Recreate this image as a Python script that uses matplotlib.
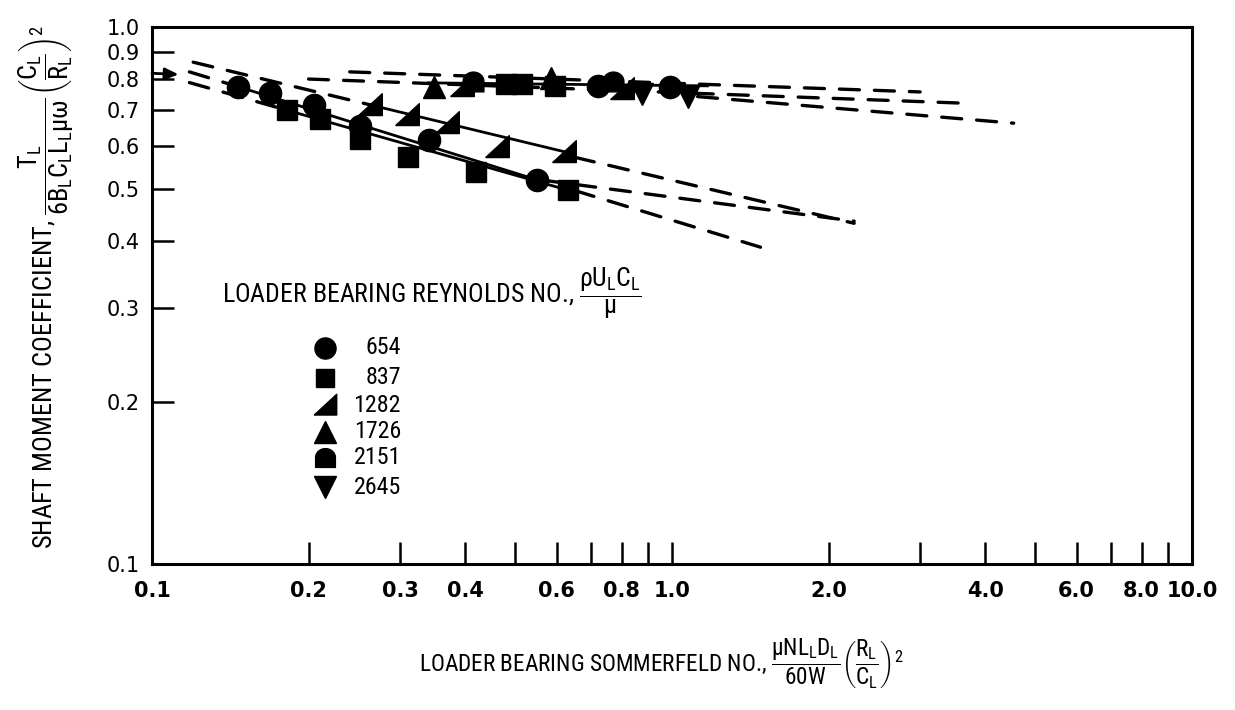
import matplotlib
matplotlib.use('Agg')
import matplotlib.pyplot as plt
from matplotlib import font_manager
from matplotlib.ticker import FixedLocator, FixedFormatter, NullLocator
import numpy as np

# ---------------- data ----------------
reynolds = ["654", "837", "1282", "1726", "2151", "2645"]

re654_x = [0.1465, 0.1688, 0.2046, 0.2516, 0.3407, 0.551, 0.72, 0.99]
re654_y = [0.774, 0.752, 0.716, 0.655, 0.616, 0.519, 0.775, 0.772]

re837_x = [0.1817, 0.2107, 0.2516, 0.310, 0.4193, 0.6296, 0.480, 0.515, 0.595]
re837_y = [0.700, 0.675, 0.618, 0.573, 0.538, 0.497, 0.783, 0.783, 0.775]

re1282_x = [0.263, 0.3096, 0.3697, 0.4614, 0.620, 0.395, 0.80]
re1282_y = [0.716, 0.686, 0.662, 0.599, 0.586, 0.775, 0.768]

re1726_x = [0.348, 0.585]
re1726_y = [0.774, 0.805]

re2151_x = [0.415, 0.77]
re2151_y = [0.790, 0.790]

re2645_x = [0.875, 1.075]
re2645_y = [0.750, 0.740]

# solid fitted lines (end points)
solid_lines = [
    ([0.1465, 0.551], [0.774, 0.519]),
    ([0.1817, 0.6296], [0.700, 0.497]),
    ([0.263, 0.620], [0.716, 0.586]),
    ([0.34, 1.17], [0.787, 0.777]),
]
# dashed extrapolations (end points)
dashed_lines = [
    ([0.120, 0.263], [0.860, 0.716]),
    ([0.118, 0.1465], [0.825, 0.774]),
    ([0.118, 0.1817], [0.788, 0.700]),
    ([0.650, 2.24], [0.572, 0.431]),
    ([0.560, 2.24], [0.519, 0.435]),
    ([0.650, 1.48], [0.496, 0.389]),
    ([0.240, 3.00], [0.825, 0.757]),
    ([0.200, 3.68], [0.800, 0.721]),
    ([1.120, 4.54], [0.742, 0.662]),
]

x_ticks = [0.1, 0.2, 0.3, 0.4, 0.5, 0.6, 0.7, 0.8, 0.9,
           1, 2, 3, 4, 5, 6, 7, 8, 9, 10]
x_ticklabels = ["0.1", "0.2", "0.3", "0.4", "", "0.6", "", "0.8", "",
                "1.0", "2.0", "", "4.0", "", "6.0", "", "8.0", "", "10.0"]
y_ticks = [0.1, 0.2, 0.3, 0.4, 0.5, 0.6, 0.7, 0.8, 0.9, 1.0]
y_ticklabels = ["0.1", "0.2", "0.3", "0.4", "0.5", "0.6", "0.7", "0.8", "0.9", "1.0"]

# ---------------- fonts ----------------
fl = font_manager.fontManager.ttflist
names = {f.name for f in fl}
FONT, STRETCH, narrow = 'DejaVu Sans', 'normal', False
for cand in ['Liberation Sans Narrow', 'Roboto Condensed', 'Noto Sans Condensed',
             'Open Sans Condensed', 'DejaVu Sans Condensed']:
    if cand in names:
        FONT, narrow = cand, True
        break
else:
    if any(f.name == 'DejaVu Sans' and str(f.stretch) in ('condensed', '600', '500')
           for f in fl):
        STRETCH, narrow = 'condensed', True
plt.rcParams['font.family'] = [FONT, 'DejaVu Sans']
plt.rcParams['font.stretch'] = STRETCH
plt.rcParams['mathtext.fontset'] = 'custom'
plt.rcParams['mathtext.rm'] = FONT
plt.rcParams['mathtext.it'] = FONT
plt.rcParams['mathtext.bf'] = FONT + ':bold'
scale = 1.15 if narrow else 0.9

# ---------------- markers ----------------
t = np.linspace(0, np.pi, 20)
dome = [(np.cos(a), 0.1 + 0.9 * np.sin(a)) for a in t] + [(-1, -0.9), (1, -0.9), (1, 0.1)]
rtri = [(-1, -0.85), (1, -0.85), (1, 1.0), (-1, -0.85)]
markers = {"654": ('o', 16), "837": ('s', 14), "1282": (rtri, 17),
           "1726": ('^', 16), "2151": (dome, 15), "2645": ('v', 16)}
series = {"654": (re654_x, re654_y), "837": (re837_x, re837_y),
          "1282": (re1282_x, re1282_y), "1726": (re1726_x, re1726_y),
          "2151": (re2151_x, re2151_y), "2645": (re2645_x, re2645_y)}

# ---------------- figure ----------------
fig = plt.figure(figsize=(12.35, 7.10), dpi=100)
ax = fig.add_axes([152 / 1235, 1 - 564 / 710, 1040 / 1235, 537 / 710])
ax.set_xscale('log')
ax.set_yscale('log')
ax.set_xlim(0.1, 10)
ax.set_ylim(0.1, 1.0)

for xs, ys in dashed_lines:
    ax.plot(xs, ys, color='black', lw=2.4, ls=(0, (6, 4.5)),
            dash_capstyle='round', zorder=2)
for xs, ys in solid_lines:
    ax.plot(xs, ys, color='black', lw=2.0, zorder=2)

for key in reynolds:
    m, ms = markers[key]
    xs, ys = series[key]
    ax.plot(xs, ys, ls='none', marker=m, ms=ms, color='black', zorder=3)

# arrow on left edge
ax.annotate('', xy=(0.1125, 0.816), xytext=(0.1, 0.820),
            arrowprops=dict(arrowstyle='-|>,head_length=0.8,head_width=0.35',
                            color='black', lw=2.0, shrinkA=0, shrinkB=0), zorder=4)

# ticks
ax.xaxis.set_major_locator(FixedLocator(x_ticks))
ax.xaxis.set_major_formatter(FixedFormatter(x_ticklabels))
ax.xaxis.set_minor_locator(NullLocator())
ax.yaxis.set_major_locator(FixedLocator(y_ticks))
ax.yaxis.set_major_formatter(FixedFormatter(y_ticklabels))
ax.yaxis.set_minor_locator(NullLocator())
ax.tick_params(axis='both', which='both', direction='in', length=16, width=1.8,
               top=False, right=False)
ax.tick_params(axis='x', pad=12)
ax.tick_params(axis='y', pad=9)
for lab in ax.get_xticklabels():
    lab.set_fontsize(15)
    lab.set_fontweight('bold')
    lab.set_family('DejaVu Sans')
    lab.set_fontstretch('normal')
for lab in ax.get_yticklabels():
    lab.set_fontsize(15)
    lab.set_family('DejaVu Sans')
    lab.set_fontstretch('normal')
for sp in ax.spines.values():
    sp.set_linewidth(2.2)

# Reynolds legend
ax.text((222 - 152) / 1040, (564 - 304) / 537,
        r'LOADER BEARING REYNOLDS NO., $\dfrac{\rho U_L C_L}{\mu}$',
        transform=ax.transAxes, fontsize=16.2 * scale, ha='left', va='baseline')
leg_y_px = [348, 378, 405, 432, 458, 487]
for key, py in zip(reynolds, leg_y_px):
    m, ms = markers[key]
    yy = (564 - py) / 537
    ax.plot([(325 - 152) / 1040], [yy], ls='none', marker=m, ms=ms * 0.95,
            color='black', transform=ax.transAxes, clip_on=False)
    ax.text((401 - 152) / 1040, yy, key, transform=ax.transAxes,
            fontsize=15 * scale, ha='right', va='center')

# axis titles
fig.text(661 / 1235, 1 - 664 / 710,
         r'LOADER BEARING SOMMERFELD NO., $\dfrac{\mu N L_L D_L}{60W}\left(\dfrac{R_L}{C_L}\right)^2$',
         fontsize=14.6 * scale, ha='center', va='center')
fig.text(46 / 1235, 1 - 287 / 710,
         r'SHAFT MOMENT COEFFICIENT, $\dfrac{T_L}{6B_L C_L L_L \mu\omega}\left(\dfrac{C_L}{R_L}\right)^2$',
         fontsize=16.5 * scale, ha='center', va='center', rotation=90)

fig.savefig('out.png', dpi=100, facecolor='white')
